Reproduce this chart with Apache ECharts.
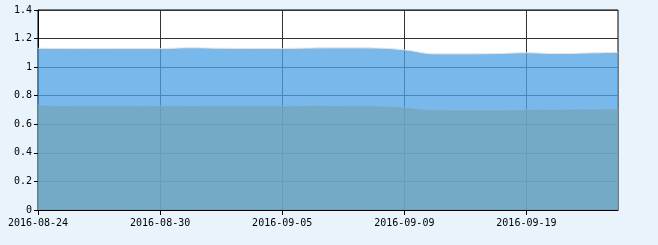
<!DOCTYPE html>
<html><head><meta charset="utf-8">
<script src="https://cdn.jsdelivr.net/npm/echarts@6/dist/echarts.min.js"></script>
<style>html,body{margin:0;padding:0;background:#e8f3fc;}#c{width:658px;height:245px;}</style>
</head><body><div id="c"></div>
<script>
var categories = ['2016-08-24','2016-08-25','2016-08-26','2016-08-29','2016-08-30','2016-08-31','2016-09-01','2016-09-02','2016-09-05','2016-09-06','2016-09-07','2016-09-08','2016-09-09','2016-09-12','2016-09-13','2016-09-14','2016-09-19','2016-09-20','2016-09-21','2016-09-22'];
var upperValues = [1.132,1.130,1.130,1.130,1.130,1.136,1.132,1.131,1.131,1.134,1.135,1.134,1.121,1.093,1.093,1.095,1.101,1.095,1.099,1.104];
var lowerValues = [0.735,0.730,0.729,0.729,0.730,0.731,0.730,0.729,0.729,0.733,0.731,0.729,0.720,0.701,0.700,0.700,0.704,0.705,0.707,0.709];

var chart = echarts.init(document.getElementById('c'), null, {renderer:'canvas'});
var font = {fontFamily:'DejaVu Sans Mono', fontSize:10, color:'#000'};
function shown(idx){ return idx % 4 === 0; }
chart.setOption({
  backgroundColor:'#e8f3fc',
  animation:false,
  grid:{left:38, right:40, top:10, bottom:35, show:true, backgroundColor:'#fff', borderColor:'#000', borderWidth:1},
  xAxis:{
    type:'category', boundaryGap:false, data:categories,
    axisLine:{lineStyle:{color:'#000', width:1}},
    axisTick:{interval:shown, length:5, lineStyle:{color:'#000'}},
    axisLabel:Object.assign({interval:shown, margin:8, hideOverlap:false}, font),
    splitLine:{show:true, interval:shown, lineStyle:{color:'#333', width:1}}
  },
  yAxis:{
    type:'value', min:0, max:1.4, interval:0.2,
    axisLine:{show:true, lineStyle:{color:'#000', width:1}},
    axisTick:{show:true, length:4, lineStyle:{color:'#000'}},
    axisLabel:Object.assign({margin:6}, font),
    splitLine:{show:true, lineStyle:{color:'#333', width:1}}
  },
  series:[
    {type:'line', data:upperValues, symbol:'none', smooth:0.4,
     lineStyle:{color:'#d6ebfa', width:1},
     areaStyle:{color:'rgb(77,162,229)', opacity:0.76}, z:2},
    {type:'line', data:lowerValues, symbol:'none', smooth:0.4,
     lineStyle:{color:'#8fbad6', width:1, opacity:0.6},
     areaStyle:{color:'rgb(116,164,186)', opacity:0.74}, z:3}
  ]
});
</script></body></html>
